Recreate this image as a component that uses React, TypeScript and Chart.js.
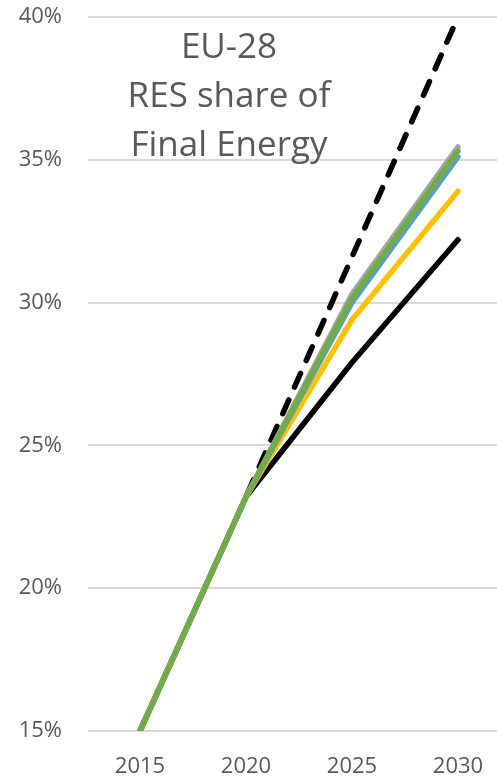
import React, { useEffect, useRef } from "react";
import { Chart, registerables } from "chart.js";

Chart.register(...registerables);

const years = [2015, 2020, 2025, 2030];
const yTicks = [15, 20, 25, 30, 35, 40];
const titleLines = ["EU-28", "RES share of", "Final Energy"];

const greenSeries = [15.0, 23.2, 30.15, 35.3];
const graySeries = [15.0, 23.2, 30.3, 35.45];
const blueSeries = [15.0, 23.2, 30.0, 35.1];
const yellowSeries = [15.0, 23.2, 29.4, 33.9];
const dashedSeries = [15.0, 23.2, 31.6, 40.0];
const blackSeries = [15.0, 23.2, 27.9, 32.2];

const toPoints = (vals: number[]) => vals.map((v, i) => ({ x: years[i], y: v }));

const titlePlugin = {
  id: "insideTitle",
  afterDraw(chart: any) {
    const ctx = chart.ctx;
    ctx.save();
    ctx.fillStyle = "#595959";
    ctx.font = "35px 'Open Sans'";
    ctx.textAlign = "center";
    ctx.textBaseline = "alphabetic";
    const baselines = [58, 107, 156];
    titleLines.forEach((t, i) => ctx.fillText(t, 229, baselines[i]));
    ctx.restore();
  },
};

export default function App() {
  const ref = useRef<HTMLCanvasElement | null>(null);
  useEffect(() => {
    if (!ref.current) return;
    const line = (data: number[], color: string, dash: number[] = []) => ({
      data: toPoints(data),
      borderColor: color,
      backgroundColor: color,
      borderWidth: 5.5,
      borderDash: dash,
      borderCapStyle: "round" as const,
      borderJoinStyle: "round" as const,
      pointRadius: 0,
      tension: 0,
      fill: false,
    });
    const chart = new Chart(ref.current, {
      type: "line",
      data: {
        datasets: [
          line(greenSeries, "#70AD47"),
          line(graySeries, "#A5A5A5"),
          line(blueSeries, "#5B9BD5"),
          line(yellowSeries, "#FFC000"),
          line(dashedSeries, "#000000", [15, 14]),
          line(blackSeries, "#000000"),
        ],
      },
      options: {
        animation: false,
        responsive: true,
        maintainAspectRatio: false,
        layout: { padding: { top: 17, right: 0, left: 0, bottom: 0 } },
        plugins: { legend: { display: false }, tooltip: { enabled: false } },
        scales: {
          x: {
            type: "linear",
            min: 2012.547,
            max: 2031.84,
            afterBuildTicks: (s: any) => {
              s.ticks = years.map((v) => ({ value: v }));
            },
            afterFit: (s: any) => {
              s.height = 48;
              s.paddingLeft = 0;
              s.paddingRight = 0;
            },
            grid: { display: false, drawTicks: false },
            border: { display: false },
            ticks: {
              color: "#595959",
              font: { family: "'Open Sans'", size: 22 },
              padding: 23,
              maxRotation: 0,
              autoSkip: false,
              callback: (v: any) => String(v),
            },
          },
          y: {
            min: 15,
            max: 40,
            afterBuildTicks: (s: any) => {
              s.ticks = yTicks.map((v) => ({ value: v }));
            },
            afterFit: (s: any) => {
              s.width = 88;
              s.paddingTop = 0;
              s.paddingBottom = 0;
            },
            grid: { color: "#d9d9d9", lineWidth: 2, drawTicks: false },
            border: { display: false },
            ticks: {
              color: "#595959",
              font: { family: "'Open Sans'", size: 22 },
              padding: 26,
              callback: (v: any) => v + "%",
            },
          },
        },
      },
      plugins: [titlePlugin],
    });
    return () => chart.destroy();
  }, []);
  return (
    <div style={{ position: "fixed", left: 0, top: 0, width: 497, height: 779, background: "#fff" }}>
      <canvas ref={ref} />
    </div>
  );
}
